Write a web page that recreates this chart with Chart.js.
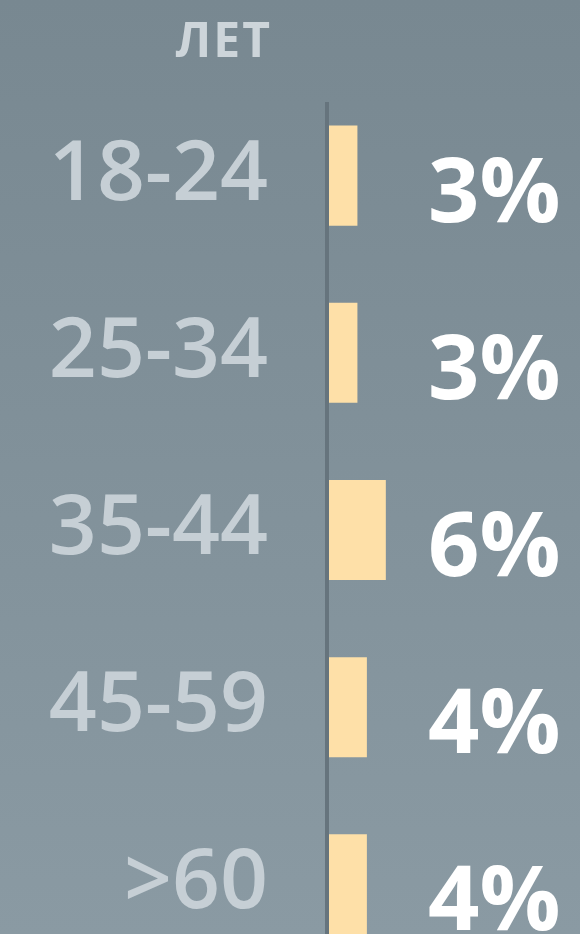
<!DOCTYPE html>
<html>
<head>
<meta charset="utf-8">
<script src="https://cdn.jsdelivr.net/npm/chart.js@4/dist/chart.umd.min.js"></script>
<style>
  html, body { margin: 0; padding: 0; }
  body {
    width: 580px; height: 934px; overflow: hidden;
    background: linear-gradient(to bottom, #788891 0%, #8a9aa3 100%);
  }
  #wrap { width: 580px; height: 980px; }
</style>
</head>
<body>
<div id="wrap"><canvas id="mycanvas" width="580" height="980"></canvas></div>
<script>
var ageGroups = ['18-24', '25-34', '35-44', '45-59', '>60'];
var shares = [3, 3, 6, 4, 4];
var headerText = 'ЛЕТ';

// axis rule, header and the percent column
var decorations = {
  id: 'decorations',
  beforeDatasetsDraw: function(chart){
    var ctx = chart.ctx, area = chart.chartArea;
    ctx.save();
    ctx.fillStyle = '#66747d';
    ctx.fillRect(area.left - 4, area.top + 15, 4, chart.height);
    ctx.restore();
  },
  afterDatasetsDraw: function(chart){
    var ctx = chart.ctx, area = chart.chartArea;
    var bars = chart.getDatasetMeta(0).data;
    ctx.save();
    ctx.fillStyle = '#ffffff';
    ctx.font = 'bold 90px "Open Sans"';
    ctx.textAlign = 'left';
    ctx.textBaseline = 'alphabetic';
    bars.forEach(function(bar, i){
      ctx.fillText(shares[i] + '%', area.left + 99, bar.y + 46);
    });

    ctx.fillStyle = '#cdd5da';
    ctx.font = 'bold 48px "Open Sans"';
    ctx.textAlign = 'right';
    ctx.letterSpacing = '2px';
    ctx.fillText(headerText, area.left - 57, 57);
    ctx.restore();
  }
};

var ctx = document.getElementById('mycanvas');

var chart = new Chart(ctx, {
  type: 'bar',
  data: {
    labels: ageGroups,
    datasets: [{
      data: shares,
      backgroundColor: '#fee0a8',
      borderWidth: 0,
      barPercentage: 0.565,
      categoryPercentage: 1
    }]
  },
  options: {
    indexAxis: 'y',
    responsive: false,
    animation: false,
    layout: { padding: { top: 87, bottom: 7, left: 0, right: 0 } },
    plugins: {
      legend: { display: false },
      tooltip: { enabled: false }
    },
    scales: {
      x: { display: false, min: 0, max: 26.5 },
      y: {
        grid: { display: false, drawTicks: false },
        border: { display: false },
        ticks: {
          color: '#c6cfd5',
          padding: 61,
          font: { family: 'Open Sans', size: 84, weight: '600' }
        },
        afterFit: function(scale){
          scale.width = 329;
          scale.paddingTop = 0;
          scale.paddingBottom = 0;
        }
      }
    }
  },
  plugins: [decorations]
});
</script>
</body>
</html>
